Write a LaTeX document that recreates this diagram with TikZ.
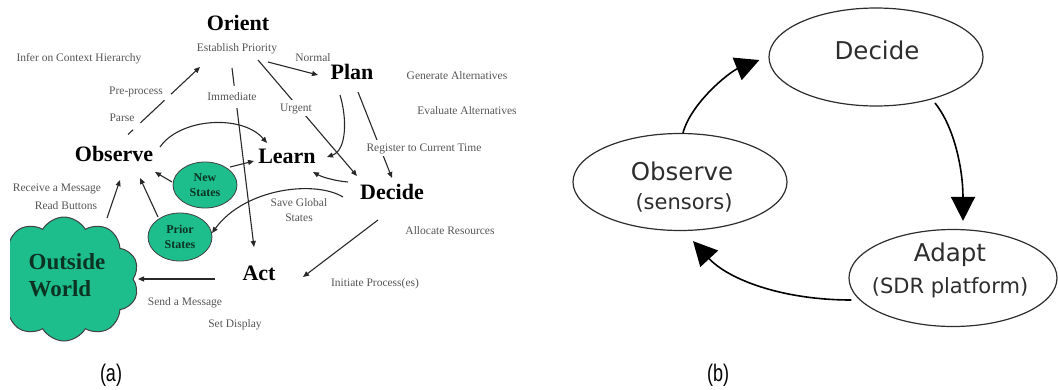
\documentclass[tikz,border=0pt]{standalone}
\usepackage{fontspec}
\setmainfont{Liberation Serif}
\newfontfamily\dvsans{DejaVu Sans}
\newfontfamily\lsans{Liberation Sans}
\usetikzlibrary{arrows.meta,shapes.geometric,shapes.symbols}
\definecolor{tealg}{RGB}{30,190,140}
\definecolor{inkA}{RGB}{40,40,40}
\definecolor{lblgray}{RGB}{85,85,85}
\definecolor{inkB}{RGB}{45,45,45}
\definecolor{cloudtxt}{RGB}{12,50,35}

\begin{document}
\begin{tikzpicture}[x=1pt,y=-1pt,
  bigword/.style={font=\bfseries\fontsize{22}{24}\selectfont, inner sep=0pt,
    text height=0.68em, text depth=0pt, text=black},
  lbl/.style={font=\fontsize{11.5}{13}\selectfont, inner sep=0pt,
    text height=0.68em, text depth=0pt, text=lblgray},
  lbltwo/.style={font=\fontsize{11.5}{15}\selectfont, inner sep=0pt, align=center, text=lblgray},
  cutlbl/.style={lbl, fill=white, inner xsep=2pt},
  statebub/.style={ellipse, fill=tealg, draw=black!75, line width=0.8pt, inner sep=0pt,
    align=center, font=\bfseries\fontsize{12}{15}\selectfont, text=cloudtxt},
  link/.style={draw=inkA, line width=1.1pt, -{Triangle[length=6pt,width=5pt]}},
  bigoval/.style={ellipse, draw=inkB, line width=1.2pt, inner sep=0pt},
  ovtxt/.style={font=\dvsans\fontsize{24.5}{26}\selectfont, text=inkB, inner sep=0pt,
    text height=.73em, text depth=0pt},
  ovsub/.style={font=\dvsans\fontsize{21}{22}\selectfont, text=inkB, inner sep=0pt,
    text height=.73em, text depth=.2em},
  loopedge/.style={draw=black, line width=1.6pt, -{Triangle[length=24pt,width=24pt]}},
  caption/.style={font=\lsans\fontsize{24}{26}\selectfont, inner sep=0pt}
]
\useasboundingbox (0,0) rectangle (1058,389);

% ---------- (a) OODA-style loop ----------
% outside world cloud, cut off at the left margin
\begin{scope}
  \clip (10,150) rectangle (200,360);
  \node[cloud, cloud puffs=10, cloud puff arc=120, cloud ignores aspect,
        minimum width=150pt, minimum height=124pt, fill=tealg, draw=black!75,
        line width=1pt, inner sep=0pt] (world) at (64,279) {};
\end{scope}
\node[font=\bfseries\fontsize{23}{27}\selectfont, text=cloudtxt, align=left, inner sep=0pt]
  (owtxt) at (67,275) {Outside\\World};

\node[bigword] (ori) at (238,27.5) {Orient};
\node[lbl] (prio) at (237,48) {Establish Priority};
\node[lbl] (infer) at (79,58) {Infer on Context Hierarchy};
\node[lbl] (normal) at (313,58) {Normal};
\node[bigword] (plan) at (352,76) {Plan};
\node[lbl] (gen) at (457,76) {Generate Alternatives};
\node[lbl] (evalalt) at (467,111) {Evaluate Alternatives};
\node[lbl] (pre) at (136,91) {Pre-process};
\node[lbl] (parse) at (122,118) {Parse};
\node[bigword] (obs) at (114,158.5) {Observe};
\node[bigword] (learn) at (287,160) {Learn};
\node[statebub, minimum width=64pt, minimum height=46pt] (newst) at (205,185) {New\\States};
\node[lbl] (recv) at (57,188) {Receive a Message};
\node[lbl] (readb) at (66,206) {Read Buttons};
\node[bigword] (dec) at (392,196.5) {Decide};
\node[lbltwo] (save) at (299,210) {Save Global\\States};
\node[statebub, minimum width=64pt, minimum height=48pt] (prior) at (180,237) {Prior\\States};
\node[lbl] (alloc) at (450,231) {Allocate Resources};
\node[bigword] (act) at (259,277.5) {Act};
\node[lbl] (init) at (375,283) {Initiate Process(es)};
\node[lbl] (send) at (185,302) {Send a Message};
\node[lbl] (setd) at (235,324) {Set Display};

% connectors
\draw[link, dash pattern=on 7pt off 10pt on 33pt off 9pt on 80pt]
  ([xshift=14pt,yshift=24pt]obs.center) -- ([xshift=-37pt,yshift=-19pt]prio.center);
\draw[link] ([xshift=31pt,yshift=-14pt]prio.center) -- ([xshift=-34pt,yshift=1pt]plan.center);
\draw[link] ([xshift=21pt,yshift=-12pt]prio.center) -- ([xshift=-35pt,yshift=20.5pt]dec.center);
\draw[link] ([xshift=-5pt,yshift=-20pt]prio.center) -- ([xshift=-5pt,yshift=30.5pt]act.center);
\draw[link] ([xshift=-12pt,yshift=-19pt]plan.center) .. controls +(7,23) and +(20,-7) ..
  ([xshift=40pt,yshift=3pt]learn.center);
\draw[link] ([xshift=6pt,yshift=-16pt]plan.center) -- ([yshift=18.5pt]dec.center);
\draw[link] ([xshift=46pt,yshift=11.5pt]obs.center) .. controls +(20,-29) and +(-25,-29) ..
  ([xshift=-20pt,yshift=17pt]learn.center);
\draw[link] ([xshift=25pt,yshift=18pt]newst.center) -- ([xshift=-33pt,yshift=-1pt]learn.center);
\draw[link] ([xshift=-33pt,yshift=3pt]newst.center) -- ([xshift=41pt,yshift=-13.5pt]obs.center);
\draw[link] ([xshift=-22pt,yshift=20pt]prior.center) -- ([xshift=26pt,yshift=-19.5pt]obs.center);
\draw[link] ([xshift=43pt,yshift=61pt]world.center) -- ([xshift=6pt,yshift=-21.5pt]obs.center);
\draw[link] ([xshift=-44pt,yshift=14.5pt]dec.center) .. controls +(-13,-1) and +(9,5) ..
  ([xshift=26pt,yshift=-12pt]learn.center);
\draw[link] ([xshift=-49pt,yshift=-0.5pt]dec.center) .. controls +(-28,-17) and +(33,-45) ..
  ([xshift=32pt,yshift=4pt]prior.center);
\draw[link] ([xshift=-14pt,yshift=-23.5pt]dec.center) -- ([xshift=44pt,yshift=0.5pt]act.center);
\draw[link] ([xshift=-44pt,yshift=-1.5pt]act.center) -- ([xshift=74pt]world.center);

% labels that sit on top of their connectors
\node[cutlbl, inner ysep=8pt] (imm) at (232,97) {Immediate};
\node[cutlbl, inner ysep=5pt] (urg) at (296,108) {Urgent};
\node[cutlbl, inner ysep=5pt] (reg) at (424,148) {Register to Current Time};

% ---------- (b) cognitive cycle ----------
\node[bigoval, minimum width=214pt, minimum height=98pt] (decB) at (876,57) {};
\node[bigoval, minimum width=214pt, minimum height=97pt] (obsB) at (680,182) {};
\node[bigoval, minimum width=208pt, minimum height=97pt] (adaB) at (953,278) {};
\node[ovtxt] (decBt) at (877,56) {Decide};
\node[ovtxt] (obsBt) at (682,177) {Observe};
\node[ovsub] (obsBs) at (684,207) {(sensors)};
\node[ovtxt] (adaBt) at (950,257.5) {Adapt};
\node[ovsub] (adaBs) at (950,291) {(SDR platform)};

\draw[loopedge] ([xshift=3pt]obsB.north) .. controls +(8,-30) and +(-30,12) ..
  ([xshift=-9pt,yshift=-3pt]decB.west);
\draw[loopedge] ([xshift=59pt,yshift=-46pt]decB.center) .. controls +(20,25) and +(0,-50) ..
  ([xshift=10pt,yshift=8pt]adaB.north);
\draw[loopedge] ([xshift=3pt,yshift=-22pt]adaB.west) .. controls +(-70,0) and +(35,38) ..
  ([xshift=13pt,yshift=-10pt]obsB.south);

% captions
\node[caption] (capa) at (111,375) {\scalebox{0.75}[1]{(a)}};
\node[caption] (capb) at (718,375) {\scalebox{0.75}[1]{(b)}};
\end{tikzpicture}
\end{document}
